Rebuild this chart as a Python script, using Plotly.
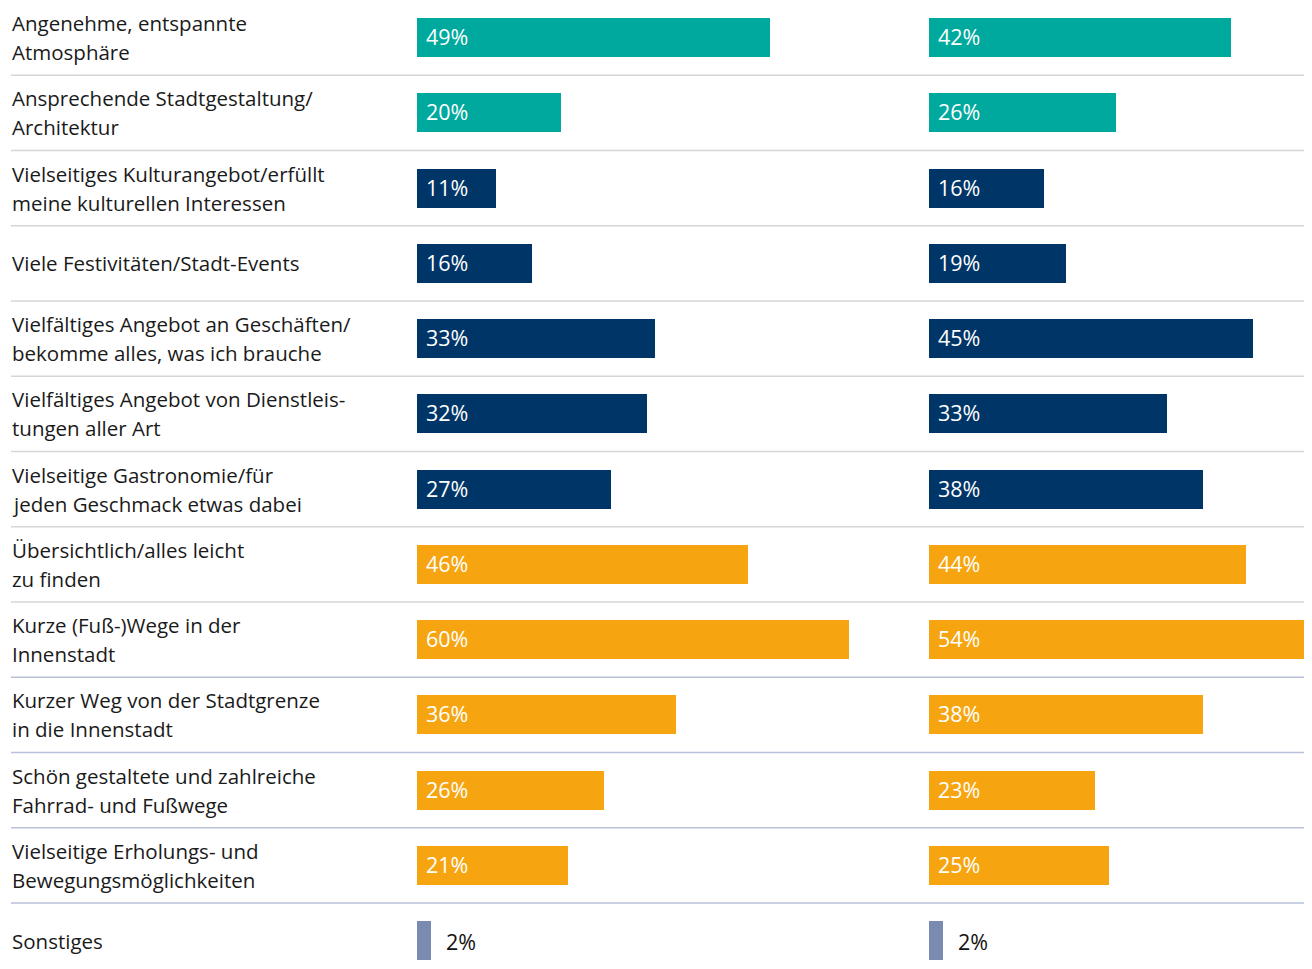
import plotly.graph_objects as go

categories = [
    "Angenehme, entspannte\nAtmosphäre",
    "Ansprechende Stadtgestaltung/\nArchitektur",
    "Vielseitiges Kulturangebot/erfüllt\nmeine kulturellen Interessen",
    "Viele Festivitäten/Stadt-Events",
    "Vielfältiges Angebot an Geschäften/\nbekomme alles, was ich brauche",
    "Vielfältiges Angebot von Dienstleis-\ntungen aller Art",
    "Vielseitige Gastronomie/für\njeden Geschmack etwas dabei",
    "Übersichtlich/alles leicht\nzu finden",
    "Kurze (Fuß-)Wege in der\nInnenstadt",
    "Kurzer Weg von der Stadtgrenze\nin die Innenstadt",
    "Schön gestaltete und zahlreiche\nFahrrad- und Fußwege",
    "Vielseitige Erholungs- und\nBewegungsmöglichkeiten",
    "Sonstiges",
]
values_left = [49, 20, 11, 16, 33, 32, 27, 46, 60, 36, 26, 21, 2]
values_right = [42, 26, 16, 19, 45, 33, 38, 44, 54, 38, 23, 25, 2]
groups = ["a", "a", "b", "b", "b", "b", "b", "c", "c", "c", "c", "c", "d"]

group_colors = {"a": "#00a99d", "b": "#003567", "c": "#f6a510", "d": "#7a8bb2"}

# page is 1312x969; the html body has an 8px margin, so the figure is offset
PAGE_W, PAGE_H = 1312, 969
OX, OY = 8, 8
W, H = PAGE_W - OX, PAGE_H - 2 * OY
PX_PER_PCT = 7.2
LEFT0, RIGHT0 = 417 - OX, 929 - OX
ROW0, ROWN, PITCH = 37.5 - OY, 940.5 - OY, 75.25
FONT = "Open Sans"
TEXT_COLOR = "#1a1a1a"

n = len(categories)
ys = list(range(n))
colors = [group_colors[g] for g in groups]

fig = go.Figure()
fig.add_trace(go.Bar(x=values_left, y=ys, orientation="h", marker=dict(color=colors, line_width=0),
                     width=39 / PITCH, xaxis="x", yaxis="y", hoverinfo="skip"))
fig.add_trace(go.Bar(x=values_right, y=ys, orientation="h", marker=dict(color=colors, line_width=0),
                     width=39 / PITCH, xaxis="x2", yaxis="y", hoverinfo="skip"))

annotations = []
for i, lab in enumerate(categories):
    lines = lab.split("\n")
    k = len(lines)
    for j, ln in enumerate(lines):
        shift = (k - 1) / 2 * 29 - j * 29
        annotations.append(dict(x=(10 - OX) / W, xref="paper", y=i, yref="y", text=ln, showarrow=False,
                                xanchor="left", yanchor="middle", yshift=shift,
                                font=dict(family=FONT, size=20.5, color=TEXT_COLOR)))

for axis, vals in (("x", values_left), ("x2", values_right)):
    for i, v in enumerate(vals):
        if v >= 5:
            annotations.append(dict(x=0, xref=axis, y=i, yref="y", text=f"{v}%", showarrow=False,
                                    xanchor="left", yanchor="middle", xshift=7, yshift=1,
                                    font=dict(family=FONT, size=21.5, color="white")))
        else:
            annotations.append(dict(x=v, xref=axis, y=i, yref="y", text=f"{v}%", showarrow=False,
                                    xanchor="left", yanchor="middle", xshift=13, yshift=-1,
                                    font=dict(family=FONT, size=21.5, color="#111111")))

shapes = []
for i in range(n - 1):
    col = "#d6d6d6" if i < 8 else "#b9c1da"
    shapes.append(dict(type="line", xref="paper", yref="y", x0=(11 - OX) / W, x1=1, y0=i + 0.5, y1=i + 0.5,
                       line=dict(color=col, width=1.5), layer="below"))

fig.update_layout(
    width=W, height=H,
    margin=dict(l=0, r=0, t=0, b=0),
    paper_bgcolor="white", plot_bgcolor="rgba(0,0,0,0)",
    showlegend=False,
    xaxis=dict(domain=[LEFT0 / W, RIGHT0 / W], range=[0, (RIGHT0 - LEFT0) / PX_PER_PCT],
               visible=False, fixedrange=True),
    xaxis2=dict(domain=[RIGHT0 / W, 1], range=[0, (W - RIGHT0) / PX_PER_PCT],
                visible=False, fixedrange=True),
    yaxis=dict(range=[n - 1 + (H - ROWN) / PITCH, -ROW0 / PITCH], visible=False, fixedrange=True),
    annotations=annotations,
    shapes=shapes,
    bargap=0,
)

fig.write_html("out.html")
